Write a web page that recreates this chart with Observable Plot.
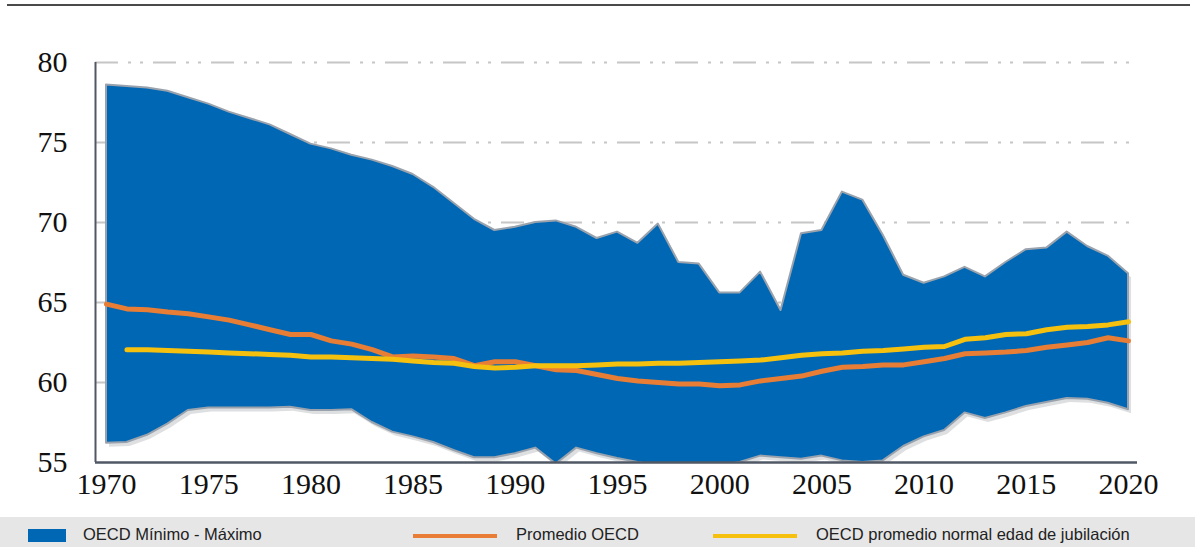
<!DOCTYPE html>
<html><head><meta charset="utf-8">
<script src="https://cdn.jsdelivr.net/npm/d3@7"></script>
<script src="https://cdn.jsdelivr.net/npm/@observablehq/plot@0.6"></script>
<style>
body{margin:0;background:#fff;width:1195px;height:547px;overflow:hidden;position:relative;font-family:"Liberation Sans",Arial,sans-serif}
#rule{position:absolute;left:7px;top:4px;width:1183px;height:0;border-top:2px solid #4a4a4a}
#chart{position:absolute;left:0;top:0}
#legend{position:absolute;left:0;top:517px;width:1195px;height:30px;background:#e6e6e6;font-size:16.5px;color:#222}
.sw{position:absolute}
.lt{position:absolute;top:9px;white-space:nowrap;line-height:1}
</style></head>
<body>
<div id="chart"></div>
<div id="rule"></div>
<div id="legend">
  <div class="sw" style="left:28px;top:12px;width:38px;height:13px;background:#0067b4"></div>
  <div class="lt" style="left:83px">OECD Mínimo - Máximo</div>
  <div class="sw" style="left:413px;top:17px;width:84px;height:4px;background:#e87e35"></div>
  <div class="lt" style="left:516px">Promedio OECD</div>
  <div class="sw" style="left:713px;top:17px;width:84px;height:4px;background:#f6c10e"></div>
  <div class="lt" style="left:816px">OECD promedio normal edad de jubilación</div>
</div>
<script>
const years = [1970,1971,1972,1973,1974,1975,1976,1977,1978,1979,1980,1981,1982,1983,1984,1985,1986,1987,1988,1989,1990,1991,1992,1993,1994,1995,1996,1997,1998,1999,2000,2001,2002,2003,2004,2005,2006,2007,2008,2009,2010,2011,2012,2013,2014,2015,2016,2017,2018,2019,2020];
const maxV = [78.6,78.5,78.4,78.2,77.8,77.4,76.9,76.5,76.1,75.5,74.9,74.6,74.2,73.9,73.5,73.0,72.2,71.2,70.2,69.5,69.7,70.0,70.1,69.7,69.0,69.4,68.7,69.9,67.5,67.4,65.6,65.6,66.9,64.5,69.3,69.5,71.9,71.4,69.2,66.7,66.2,66.6,67.2,66.6,67.5,68.3,68.4,69.4,68.5,67.9,66.8];
const minV = [56.2,56.25,56.7,57.4,58.25,58.4,58.4,58.4,58.4,58.45,58.25,58.25,58.3,57.5,56.9,56.6,56.25,55.75,55.3,55.3,55.55,55.9,54.9,55.9,55.55,55.25,55.0,54.8,54.8,54.8,54.8,55.0,55.4,55.3,55.2,55.4,55.1,55.0,55.1,56.0,56.6,57.0,58.1,57.75,58.1,58.5,58.75,59.0,58.95,58.7,58.3];
const avgV = [64.9,64.6,64.55,64.4,64.3,64.1,63.9,63.6,63.3,63.0,63.0,62.6,62.4,62.05,61.6,61.65,61.6,61.5,61.05,61.3,61.3,61.05,60.8,60.75,60.5,60.25,60.1,60.0,59.9,59.9,59.8,59.85,60.1,60.25,60.4,60.7,60.95,61.0,61.1,61.1,61.3,61.5,61.8,61.85,61.9,62.0,62.2,62.35,62.5,62.8,62.6];
const retV = [null,62.05,62.05,62.0,61.95,61.9,61.85,61.8,61.75,61.7,61.6,61.6,61.55,61.5,61.45,61.35,61.25,61.2,61.0,60.9,60.95,61.05,61.05,61.05,61.1,61.15,61.15,61.2,61.2,61.25,61.3,61.35,61.4,61.55,61.7,61.8,61.85,61.95,62.0,62.1,62.2,62.25,62.7,62.8,63.0,63.05,63.3,63.45,63.5,63.6,63.8];
const yTicks = [55,60,65,70,75,80];
const xTicks = [1970,1975,1980,1985,1990,1995,2000,2005,2010,2015,2020];

const data = years.map((y,i)=>({year:y,min:minV[i],max:maxV[i],avg:avgV[i],ret:retV[i]}));
const retData = data.filter(d=>d.ret!=null);
const x0 = 1969.462;

const chart = Plot.plot({
  width:1195, height:517,
  marginLeft:95, marginRight:58, marginTop:62, marginBottom:55,
  style:{background:"transparent", fontFamily:"'Liberation Serif','Times New Roman',serif"},
  x:{domain:[x0,2020.44], axis:null},
  y:{domain:[55,80], axis:null},
  marks:[
    Plot.gridY(yTicks.filter(v=>v>55), {stroke:"#c6c6c6", strokeOpacity:1, strokeWidth:2, strokeDasharray:"23,10,3,9,3,10"}),
    Plot.areaY(data, {x:"year", y1:"min", y2:"max", fill:"#7a7f86", fillOpacity:0.25, dx:3, dy:4, clip:true}),
    Plot.areaY(data, {x:"year", y1:"min", y2:"max", fill:"#0067b4", stroke:"#9aa3ad", strokeWidth:2, clip:true}),
    Plot.lineY(data, {x:"year", y:"avg", stroke:"#e87e35", strokeWidth:5, clip:true}),
    Plot.lineY(retData, {x:"year", y:"ret", stroke:"#f6c10e", strokeWidth:5, clip:true}),
    Plot.ruleX([x0], {y1:55, y2:80, stroke:"#505865", strokeWidth:2}),
    Plot.ruleY([55], {stroke:"#505865", strokeWidth:2.5}),
    Plot.axisY(yTicks, {tickSize:0, tickPadding:28, fontSize:30, fill:"#111", label:null}),
    Plot.axisX(xTicks, {tickSize:0, tickPadding:10, fontSize:30, fill:"#111", label:null, tickFormat:d=>String(d)})
  ]
});
document.getElementById("chart").append(chart);
</script>
</body></html>
